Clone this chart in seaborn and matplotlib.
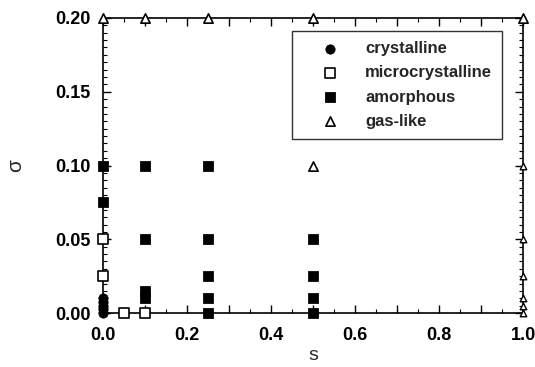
import numpy as np
import matplotlib
matplotlib.use("Agg")
import matplotlib.pyplot as plt
from matplotlib.ticker import MultipleLocator, FuncFormatter
import pandas as pd
import seaborn as sns

# phase diagram points
cryst_s = [0.0, 0.0, 0.0, 0.0, 0.0]
cryst_sigma = [0.0, 0.0025, 0.005, 0.0075, 0.01]

micro_s = [0.0, 0.0, 0.05, 0.1]
micro_sigma = [0.05, 0.025, 0.0, 0.0]

amorph_s = [0.0, 0.0, 0.1, 0.1, 0.1, 0.1, 0.25, 0.25, 0.25, 0.25, 0.25, 0.5, 0.5, 0.5, 0.5]
amorph_sigma = [0.1, 0.075, 0.1, 0.05, 0.015, 0.01, 0.1, 0.05, 0.025, 0.01, 0.0, 0.05, 0.025, 0.01, 0.0]

gas_s = [0.0, 0.1, 0.25, 0.5, 1.0, 0.5, 1.0, 1.0, 1.0, 1.0, 1.0, 1.0]
gas_sigma = [0.2, 0.2, 0.2, 0.2, 0.2, 0.1, 0.1, 0.05, 0.025, 0.01, 0.005, 0.0]

labels = ["crystalline", "microcrystalline", "amorphous", "gas-like"]

df = pd.concat([
    pd.DataFrame({"s": cryst_s, "sigma": cryst_sigma, "phase": labels[0]}),
    pd.DataFrame({"s": micro_s, "sigma": micro_sigma, "phase": labels[1]}),
    pd.DataFrame({"s": amorph_s, "sigma": amorph_sigma, "phase": labels[2]}),
    pd.DataFrame({"s": gas_s, "sigma": gas_sigma, "phase": labels[3]}),
])

sns.set_style("ticks")
plt.rcParams['font.family'] = ['Liberation Sans', 'DejaVu Sans']
plt.rcParams['font.weight'] = 'bold'

fig = plt.figure(figsize=(5.35, 3.67), dpi=100)
ax = fig.add_axes([0.193, 0.147, 0.785, 0.804])

styles = {
    "crystalline": dict(marker="o", s=45, color="black", edgecolor="black"),
    "microcrystalline": dict(marker="s", s=45, facecolor="white", edgecolor="black", linewidth=1.2),
    "amorphous": dict(marker="s", s=50, color="black", edgecolor="black"),
    "gas-like": dict(marker="^", s=45, facecolor="white", edgecolor="black", linewidth=1.2),
}
for ph in labels:
    sub = df[df["phase"] == ph]
    if ph == "gas-like":
        # points sitting on the right frame are drawn smaller in the original
        edge = (sub["s"] == 1.0) & (sub["sigma"] < 0.2)
        sns.scatterplot(data=sub[edge], x="s", y="sigma", ax=ax, clip_on=False,
                        zorder=3, **dict(styles[ph], s=22, linewidth=1.0))
        sub = sub[~edge]
    sns.scatterplot(data=sub, x="s", y="sigma", ax=ax, label=ph, clip_on=False,
                    zorder=3, **styles[ph])

ax.set_xlim(0, 1.0)
ax.set_ylim(0, 0.2)
ax.xaxis.set_major_locator(MultipleLocator(0.1))
ax.xaxis.set_minor_locator(MultipleLocator(0.05))
ax.xaxis.set_major_formatter(FuncFormatter(
    lambda v, p: "%.1f" % v if round(v * 10) % 2 == 0 else ""))
ax.yaxis.set_major_locator(MultipleLocator(0.05))
ax.yaxis.set_minor_locator(MultipleLocator(0.005))
ax.yaxis.set_major_formatter(FuncFormatter(lambda v, p: "%.2f" % v))
ax.tick_params(which="both", direction="in", top=True, right=True, colors="black",
               labelsize=13)
ax.tick_params(axis="y", which="both", pad=9)
ax.tick_params(axis="x", which="both", pad=10)
ax.tick_params(which="major", length=6, width=1)
ax.tick_params(which="minor", length=3, width=0.8)
for sp in ax.spines.values():
    sp.set_linewidth(1.2)
    sp.set_color("black")

ax.set_xlabel("s", fontsize=14, labelpad=2)
ax.set_ylabel("σ", fontsize=15, labelpad=22)

leg = ax.legend(loc="upper right", bbox_to_anchor=(0.95, 0.955), frameon=True,
                fancybox=False, edgecolor="black", fontsize=12,
                handlelength=3.4, handletextpad=0.4, borderpad=0.6,
                labelspacing=0.55, borderaxespad=0)
leg.get_frame().set_linewidth(1.0)

fig.savefig("out.png", dpi=100)
